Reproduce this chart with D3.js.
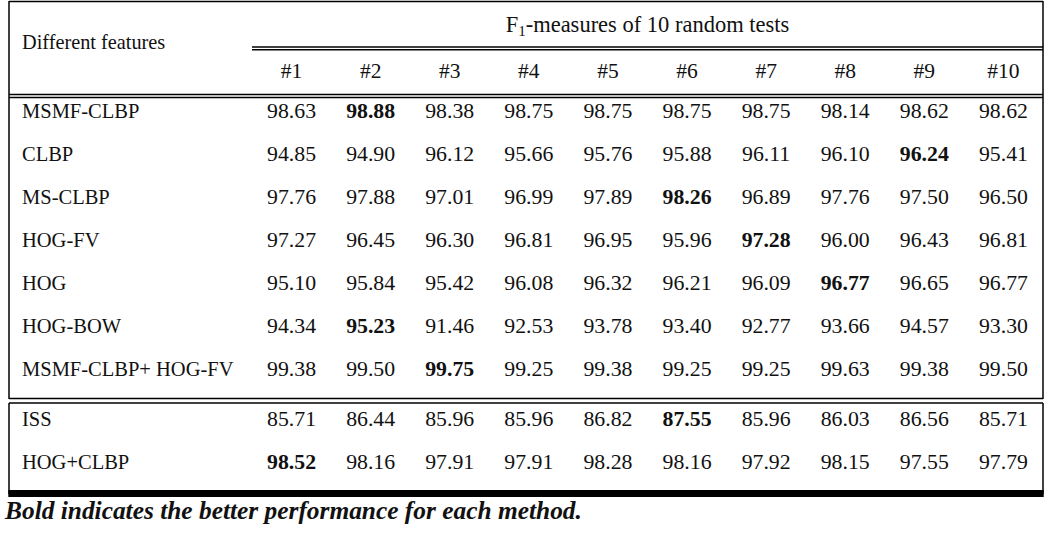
<!DOCTYPE html>
<html>
<head>
<meta charset="utf-8">
<script src="https://cdn.jsdelivr.net/npm/d3@7"></script>
<style>
  html, body { margin: 0; padding: 0; background: #fff; }
  svg { display: block; }
  text { font-family: "Liberation Serif", "Times New Roman", serif; fill: #111; }
</style>
</head>
<body>
<script>
// ---- data ----
const tests = ["#1","#2","#3","#4","#5","#6","#7","#8","#9","#10"];
const featuresA = ["MSMF-CLBP","CLBP","MS-CLBP","HOG-FV","HOG","HOG-BOW","MSMF-CLBP+ HOG-FV"];
const valuesA = [
  [98.63,98.88,98.38,98.75,98.75,98.75,98.75,98.14,98.62,98.62],
  [94.85,94.90,96.12,95.66,95.76,95.88,96.11,96.10,96.24,95.41],
  [97.76,97.88,97.01,96.99,97.89,98.26,96.89,97.76,97.50,96.50],
  [97.27,96.45,96.30,96.81,96.95,95.96,97.28,96.00,96.43,96.81],
  [95.10,95.84,95.42,96.08,96.32,96.21,96.09,96.77,96.65,96.77],
  [94.34,95.23,91.46,92.53,93.78,93.40,92.77,93.66,94.57,93.30],
  [99.38,99.50,99.75,99.25,99.38,99.25,99.25,99.63,99.38,99.50]
];
const boldA = [1,8,5,6,7,1,2]; // column index of bold value per row
const featuresB = ["ISS","HOG+CLBP"];
const valuesB = [
  [85.71,86.44,85.96,85.96,86.82,87.55,85.96,86.03,86.56,85.71],
  [98.52,98.16,97.91,97.91,98.28,98.16,97.92,98.15,97.55,97.79]
];
const boldB = [5,0];
const headerLeft = "Different features";
const headerTop = "F";
const headerSub = "1";
const headerRest = "-measures of 10 random tests";
const caption = "Bold indicates the better performance for each method.";

// ---- layout ----
const W = 1057, H = 533;
const L = 9, R = 1043, colStart = 252;
const svg = d3.select("body").append("svg").attr("width", W).attr("height", H);

const x = d3.scaleBand().domain(tests).range([colStart, R]);
const yA = d3.scaleLinear().domain([0, 6]).range([118, 376]);
const yB = d3.scaleLinear().domain([0, 1]).range([426, 469]);

function hline(x1, x2, y, w) {
  svg.append("line").attr("x1", x1).attr("x2", x2).attr("y1", y).attr("y2", y)
    .attr("stroke", "#000").attr("stroke-width", w || 1.5);
}
function vline(xx, y1, y2, w) {
  svg.append("line").attr("x1", xx).attr("x2", xx).attr("y1", y1).attr("y2", y2)
    .attr("stroke", "#000").attr("stroke-width", w || 1.5);
}

// box 1
hline(L, R, 1.5);
vline(L, 1, 399);
vline(R, 1, 399);
hline(colStart, R, 47);
hline(colStart, R, 49.8);
hline(L, R, 94.5);
hline(L, R, 97.6);
hline(L, R, 398.6);
// box 2
hline(L, R, 403);
vline(L, 403, 494);
vline(R, 403, 494);
svg.append("rect").attr("x", L - 0.7).attr("y", 490).attr("width", R - L + 1.4).attr("height", 7).attr("fill", "#000");

// headers
svg.append("text").attr("x", 22).attr("y", 49).attr("font-size", 20.3).text(headerLeft);
const ht = svg.append("text").attr("x", (colStart + R) / 2).attr("y", 32)
  .attr("text-anchor", "middle").attr("font-size", 22.5);
ht.append("tspan").text(headerTop);
ht.append("tspan").attr("font-size", 15).attr("dy", 4).text(headerSub);
ht.append("tspan").attr("dy", -4).text(headerRest);

svg.selectAll("text.col").data(tests).enter().append("text")
  .attr("class", "col")
  .attr("x", d => x(d) + x.bandwidth() / 2)
  .attr("y", 78)
  .attr("text-anchor", "middle")
  .attr("font-size", 21.5)
  .text(d => d);

function drawRows(features, values, bold, y) {
  const g = svg.append("g");
  features.forEach((f, i) => {
    g.append("text").attr("x", 22).attr("y", y(i)).attr("font-size", 20.5).text(f);
    g.selectAll(null).data(values[i]).enter().append("text")
      .attr("x", (d, j) => x(tests[j]) + x.bandwidth() / 2)
      .attr("y", y(i))
      .attr("text-anchor", "middle")
      .attr("font-size", 21.8)
      .attr("font-weight", (d, j) => j === bold[i] ? "bold" : "normal")
      .text(d => d.toFixed(2));
  });
}
drawRows(featuresA, valuesA, boldA, yA);
drawRows(featuresB, valuesB, boldB, yB);

// caption
svg.append("text").attr("x", 5).attr("y", 519).attr("font-size", 25.4)
  .attr("font-weight", "bold").attr("font-style", "italic").text(caption);
</script>
</body>
</html>
